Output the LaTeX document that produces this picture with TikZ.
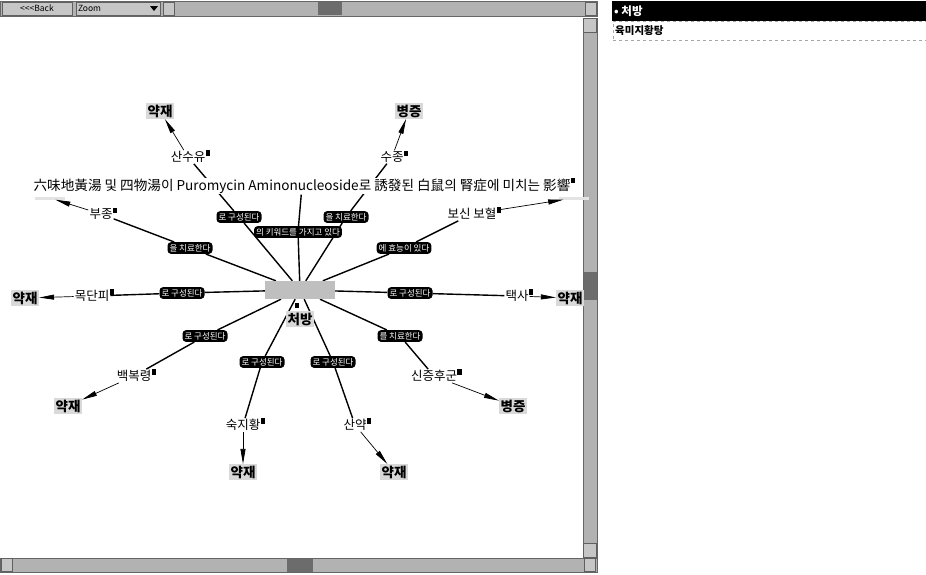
\documentclass[tikz,border=0pt]{standalone}
\usepackage{fontspec}
\setmainfont{Noto Sans CJK KR}
\usetikzlibrary{arrows.meta,calc}
\pgfdeclarelayer{bg}
\pgfsetlayers{bg,main}
\tikzset{
  cat/.style={fill=gray!30, inner sep=1.5pt, font=\fontsize{13.5}{13.5}\selectfont\bfseries},
  term/.style={inner sep=1pt, font=\fontsize{12.5}{12.5}\selectfont},
  lab/.style={fill=black, text=white, rounded corners=3.5pt, inner sep=2pt, font=\fontsize{8.5}{8.5}\selectfont},
  ico/.style={fill=black, minimum width=4.5pt, minimum height=5.5pt, inner sep=0pt, anchor=south west},
  mainedge/.style={line width=1.4pt},
  outedge/.style={line width=0.7pt, -{Triangle[length=15pt,width=5pt]}},
  chrome/.style={fill=gray!60, draw=gray!80!black, line width=0.5pt},
  btn/.style={fill=gray!45, draw=gray!75!black, line width=0.5pt},
  thumb/.style={fill=gray!85!black},
  ghost/.style={fill=gray!22, minimum width=30pt, minimum height=3pt, inner sep=0pt}
}
\begin{document}
\begin{tikzpicture}[x=1pt,y=-1pt]
\useasboundingbox (0,0) rectangle (926,574);
\begin{pgfonlayer}{bg}
\fill[white] (0,0) rectangle (926,574);
\end{pgfonlayer}
% ---------- window chrome ----------
\path[chrome] (0,1) rectangle (597,16);
\node[btn, minimum width=70pt, minimum height=13pt, inner sep=0pt, font=\fontsize{8.5}{8.5}\selectfont] (back) at (37,8.5) {{<}{<}{<}Back};
\node[btn, minimum width=84pt, minimum height=13pt, inner sep=0pt, font=\fontsize{8.5}{8.5}\selectfont, text width=80pt, align=left] (zoom) at (118,8.5) {Zoom};
\fill (150,6) -- (158,6) -- (154,11) -- cycle;
\node[btn, minimum width=11pt, minimum height=13pt, inner sep=0pt] (hl) at (169,8.5) {};
\node[thumb, minimum width=24pt, minimum height=13pt, inner sep=0pt] (ht) at (330,8.5) {};
\node[btn, minimum width=11pt, minimum height=13pt, inner sep=0pt] (hr) at (591,8.5) {};
% right scrollbar
\path[chrome] (583,18) rectangle (597,557);
\node[btn, minimum width=13pt, minimum height=14pt, inner sep=0pt] (vu) at (590,25) {};
\node[thumb, minimum width=13pt, minimum height=28pt, inner sep=0pt] (vt) at (590,286) {};
\node[btn, minimum width=13pt, minimum height=14pt, inner sep=0pt] (vd) at (590,550) {};
% bottom scrollbar
\path[chrome] (0,558) rectangle (597,572);
\node[btn, minimum width=11pt, minimum height=13pt, inner sep=0pt] (bl) at (7,565) {};
\node[thumb, minimum width=26pt, minimum height=13pt, inner sep=0pt] (bt) at (300,565) {};
\node[btn, minimum width=11pt, minimum height=13pt, inner sep=0pt] (br) at (590,565) {};
% right panel
\node[fill=black, text=white, minimum width=314pt, minimum height=20pt, anchor=north west, inner sep=0pt] (hdr) at (612,1) {};
\node[text=white, anchor=west, font=\fontsize{11.5}{11.5}\selectfont\bfseries, inner sep=1pt] (hdrt) at (613,11) {• 처방};
\node[draw=gray!70, dashed, minimum width=313pt, minimum height=19pt, anchor=north west, inner sep=0pt] (rbox) at (612.5,21) {};
\node[anchor=west, font=\fontsize{10.5}{10.5}\selectfont\bfseries, inner sep=1pt] (rboxt) at (614,30.5) {육미지황탕};

% ---------- diagram nodes ----------
\node[fill=gray!50, minimum width=70pt, minimum height=18pt, inner sep=0pt] (ctr) at (300,290) {};
\node[cat] (cf) at (300,319) {처방};
\node[fill=black, minimum width=4pt, minimum height=5pt, inner sep=0pt] (cfi) at (297,305) {};

\node[fill=white, inner sep=1pt, font=\fontsize{13.6}{13.6}\selectfont] (title) at (302,186) {六味地黃湯 및 四物湯이 Puromycin Aminonucleoside로 誘發된 白鼠의 腎症에 미치는 影響};
\node[ico] (titlei) at ($(title.north east)+(-1,6)$) {};
\node[ghost] (gl) at (50,198) {};
\node[ghost] (gr) at (574,198) {};

\node[term] (ssy) at (188,157) {산수유};
\node[term] (sj) at (392,157) {수종};
\node[term] (bj) at (101,214) {부종};
\node[term] (bs) at (472,214) {보신 보혈};
\node[term] (mdp) at (92,296) {목단피};
\node[term] (ts) at (517,296) {택사};
\node[term] (bbr) at (134,376) {백복령};
\node[term] (sjh) at (434,376) {신증후군};
\node[term] (sjw) at (243,425) {숙지황};
\node[term] (sy) at (355,425) {산약};
\foreach \n in {ssy,sj,bj,bs,mdp,ts,bbr,sjh,sjw,sy}{
  \node[ico] (\n i) at ($(\n.north east)+(-1,6)$) {};
}

\node[cat] (y1) at (160,111) {약재};
\node[cat] (p1) at (409,111) {병증};
\node[cat] (y2) at (25,298) {약재};
\node[cat] (y3) at (570,298) {약재};
\node[cat] (y4) at (68,406) {약재};
\node[cat] (p2) at (513,406) {병증};
\node[cat] (y5) at (243,472) {약재};
\node[cat] (y6) at (394,472) {약재};

\node[lab] (l1) at (239,217) {로 구성된다};
\node[lab] (l2) at (346,217) {을 치료한다};
\node[lab] (l3) at (298,232) {의 키워드를 가지고 있다};
\node[lab] (l4) at (190,248) {을 치료한다};
\node[lab] (l5) at (404,248) {에 효능이 있다};
\node[lab] (l6) at (182,293) {로 구성된다};
\node[lab] (l7) at (410,293) {로 구성된다};
\node[lab] (l8) at (205,336) {로 구성된다};
\node[lab] (l9) at (400,336) {를 치료한다};
\node[lab] (l10) at (262,362) {로 구성된다};
\node[lab] (l11) at (333,362) {로 구성된다};

% ---------- connectors ----------
\begin{pgfonlayer}{bg}
\draw[mainedge] (ctr) -- (l1) -- (ssy);
\draw[mainedge] (ctr) -- (l2) -- (sj);
\draw[mainedge] (ctr) -- (l3) -- (title);
\draw[mainedge] (ctr) -- (l4) -- (bj);
\draw[mainedge] (ctr) -- (l5) -- (bs);
\draw[mainedge] (ctr) -- (l6) -- (mdp);
\draw[mainedge] (ctr) -- (l7) -- (ts);
\draw[mainedge] (ctr) -- (l8) -- (bbr);
\draw[mainedge] (ctr) -- (l9) -- (sjh);
\draw[mainedge] (ctr) -- (l10) -- (sjw);
\draw[mainedge] (ctr) -- (l11) -- (sy);
\end{pgfonlayer}
\draw[outedge] (ssy) -- (y1);
\draw[outedge] (sj) -- (p1);
\draw[outedge] (mdp) -- (y2);
\draw[outedge] (ts) -- (y3);
\draw[outedge] (bbr) -- (y4);
\draw[outedge] (sjh) -- (p2);
\draw[outedge] (sjw) -- (y5);
\draw[outedge] (sy) -- (y6);
\draw[outedge] (bj) -- (gl);
\draw[outedge] (bs) -- (gr);
\end{tikzpicture}
\end{document}
